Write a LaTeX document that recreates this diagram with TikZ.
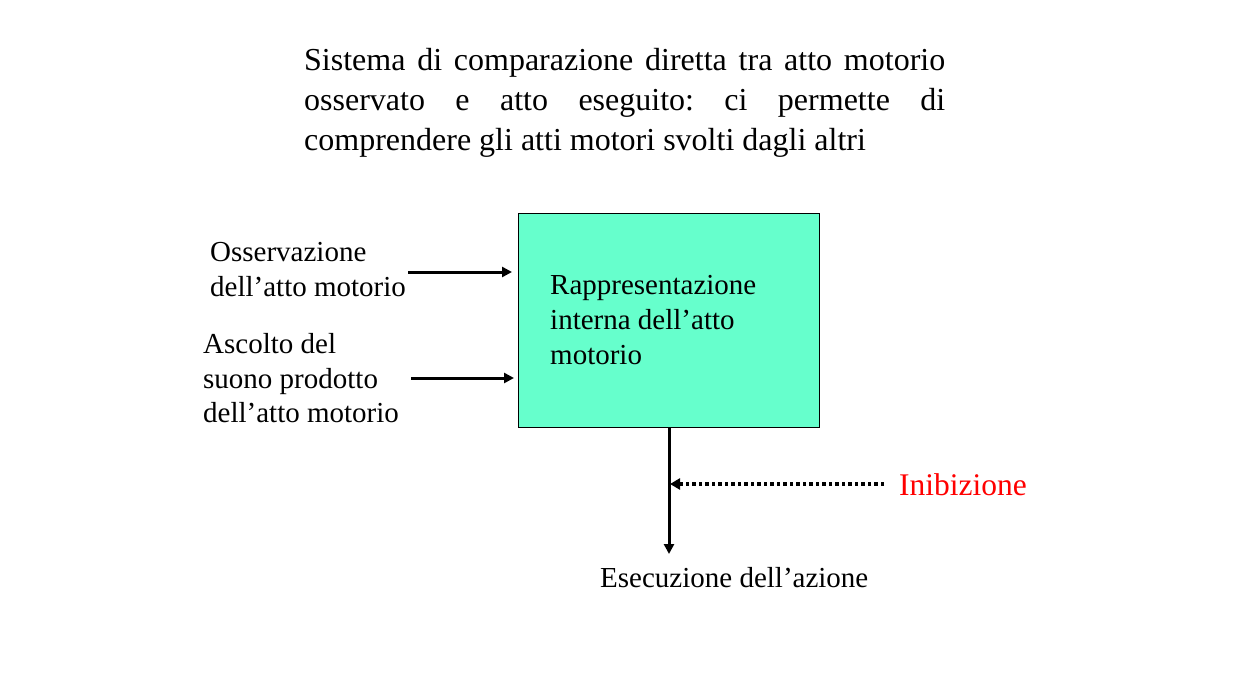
\documentclass[tikz,border=0pt]{standalone}
\usepackage{fontspec}
\setmainfont{Liberation Serif}
\usetikzlibrary{arrows.meta}
\frenchspacing
\begin{document}
\begin{tikzpicture}[x=1pt,y=-1pt,
  lbl/.style={inner sep=0pt, anchor=north west, font=\fontsize{29}{34.8}\selectfont, align=left},
  conn/.style={line width=3pt, -{Triangle[length=10pt,width=10pt]}},
  dotconn/.style={line width=3.5pt, dash pattern=on 3.5pt off 3pt, -{Triangle[length=10pt,width=11pt]}}]
\useasboundingbox (0,0) rectangle (1234,696);
\node[inner sep=0pt, anchor=north west, text width=641pt, align=justify,
      font=\fontsize{32}{40}\selectfont\frenchspacing] (title) at (304,48)
  {Sistema di comparazione diretta tra atto motorio\linebreak osservato e atto eseguito: ci permette di\linebreak comprendere gli atti motori svolti dagli altri};
\node[draw=black, line width=1.2pt, fill={rgb,255:red,102;green,255;blue,204},
      minimum width=301pt, minimum height=214pt, anchor=north west, inner sep=0pt] (box) at (518,213) {};
\node[lbl] (boxtxt) at (550,275) {Rappresentazione\\interna dell’atto\\motorio};
\node[lbl] (oss) at (210,242) {Osservazione\\dell’atto motorio};
\node[lbl] (asc) at (203,333) {Ascolto del\\suono prodotto\\dell’atto motorio};
\coordinate (o1) at (408,272);
\coordinate (o2) at (512,272);
\coordinate (a1) at (411,378);
\coordinate (a2) at (514,378);
\draw[conn] (o1) -- (o2);
\draw[conn] (a1) -- (a2);
\coordinate (v1) at (669,427);
\coordinate (v2) at (669,554);
\draw[conn] (v1) -- (v2);
\node[inner sep=0pt, anchor=west, text=red, font=\fontsize{31.5}{34}\selectfont] (inib) at (899,485) {Inibizione};
\coordinate (d1) at (884,484);
\coordinate (d2) at (670,484);
\draw[dotconn] (d1) -- (d2);
\node[inner sep=0pt, anchor=west, font=\fontsize{29}{34}\selectfont] (exec) at (600,578) {Esecuzione dell’azione};
\end{tikzpicture}
\end{document}
